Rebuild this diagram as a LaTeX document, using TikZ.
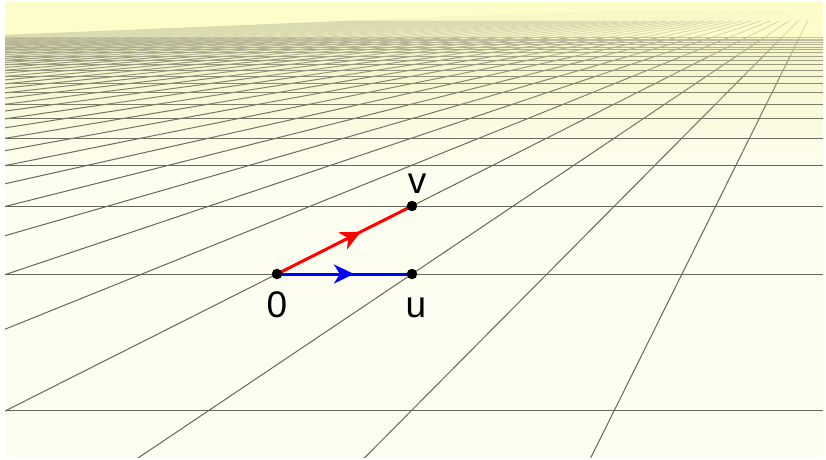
\documentclass[tikz,border=0pt]{standalone}
\usepackage{fontspec}
\setmainfont{Liberation Sans}
\usetikzlibrary{arrows.meta,decorations.markings}

\definecolor{skyfog}{HTML}{FDFDCA}
\definecolor{groundcol}{HTML}{FEFEF0}
\definecolor{gridcol}{HTML}{66665C}

\tikzset{
  gridline/.style={line width=1pt},
  vecline/.style={line width=3pt, postaction={decorate},
    decoration={markings, mark=at position #1 with {\arrow{Stealth[length=20pt,width=19pt,inset=6pt]}}}},
  dot/.style={circle, fill=black, inner sep=0pt, minimum size=10.5pt},
  lbl/.style={font=\fontsize{37}{37}\selectfont, inner sep=0pt, anchor=base}
}

\begin{document}
\begin{tikzpicture}[x=1pt, y=1pt,
    declare function={px(\x,\y)=817+(135*\x-540)*(3/(\y+3)); py(\y)=457-272*(3/(\y+3));}]
    % Page and canvas
    \fill[white] (0,0) rectangle (826,459);
    \begin{scope}
        \clip (5,2) rectangle (823,457);
        \fill[groundcol] (5,2) rectangle (823,457);
        \shade[top color=skyfog!90!gridcol!60!skyfog, bottom color=groundcol] (5,290) rectangle (823,420);
        \fill[skyfog] (5,420) rectangle (823,457);

        % Receding lines (fogged towards the horizon)
        \foreach \X in {-45,...,3} {
            \foreach \Ya/\Yb in {-1.25/0, 0/1, 1/2, 2/3, 3/5, 5/8, 8/12, 12/20, 20/40, 40/90} {
                \pgfmathsetmacro\fog{100*exp(-max(0,(\Ya+\Yb)/2-2)/19)}
                \draw[gridline, gridcol!\fog!skyfog] ({px(\X,\Ya)},{py(\Ya)}) -- ({px(\X,\Yb)},{py(\Yb)});
            }
        }

        % Cross lines
        \foreach \Y in {-1,...,20} {
            \pgfmathsetmacro\fog{100*exp(-max(0,\Y-2)/19)}
            \draw[gridline, gridcol!\fog!skyfog] (5,{py(\Y)}) -- (823,{py(\Y)});
        }
    \end{scope}

    % Points
    \coordinate (O) at ({px(0,0)},{py(0)});
    \coordinate (u) at ({px(1,0)},{py(0)});
    \coordinate (v) at ({px(0,1)},{py(1)});

    % Vectors
    \draw[vecline=0.62, red] (O) -- (v);
    \draw[vecline=0.57, blue] (O) -- (u);

    % Dots and labels
    \node[dot] (dO) at (O) {};
    \node[dot] (du) at (u) {};
    \node[dot] (dv) at (v) {};
    \node[lbl] (labO) at (277,142) {0};
    \node[lbl] (labu) at (416,142) {u};
    \node[lbl] (labv) at (417,266) {v};
\end{tikzpicture}
\end{document}
